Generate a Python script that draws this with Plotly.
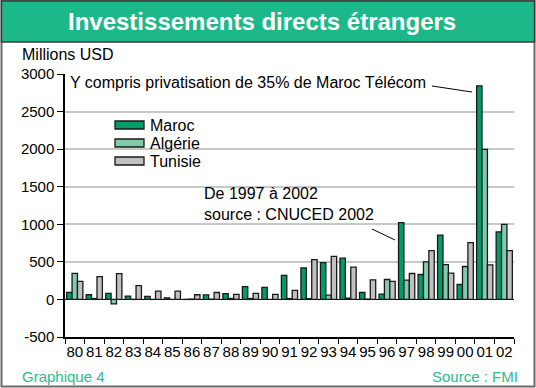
import plotly.graph_objects as go

years = ["80", "81", "82", "83", "84", "85", "86", "87", "88", "89", "90", "91",
         "92", "93", "94", "95", "96", "97", "98", "99", "00", "01", "02"]
maroc = [94, 62, 80, 45, 40, 20, 2, 60, 78, 170, 160, 320, 420, 491, 549, 92, 71,
         1021, 332, 857, 199, 2842, 900]
algerie = [348, 12, -58, 2, 1, 0, 5, 4, 13, 12, 0, 12, 10, 58, 18, 5, 265,
           256, 500, 464, 438, 1996, 1000]
tunisie = [241, 304, 344, 183, 111, 111, 62, 92, 68, 80, 67, 120, 531, 572, 429,
           259, 239, 345, 650, 350, 756, 460, 649]
y_tickvals = [-500, 0, 500, 1000, 1500, 2000, 2500, 3000]
y_ticktext = ["-500", "0", "500", "1000", "1500", "2000", "2500", "3000"]
series = [("Maroc", maroc, "#009b68"), ("Algérie", algerie, "#80ccaa"), ("Tunisie", tunisie, "#c0c0c0")]

W, H = 536, 388
L, R, T, B = 65, 22, 74, 51
PW, PH = W - L - R, H - T - B
FONT = "Liberation Sans, Arial, sans-serif"


def px(x):
    return (x - L) / PW


def py(y):
    return (H - B - y) / PH


fig = go.Figure()
for name, vals, col in series:
    fig.add_trace(go.Bar(x=years, y=vals, name=name, marker_color=col,
                         marker_line_color="#1a1a1a", marker_line_width=1.3,
                         showlegend=False))

shapes = []
annotations = []
# outer frame and title band
shapes.append(dict(type="rect", xref="paper", yref="paper", x0=px(1.5), x1=px(534.5),
                   y0=py(386.5), y1=py(1), line=dict(color="#6a6a6a", width=2),
                   fillcolor="rgba(0,0,0,0)", layer="above"))
shapes.append(dict(type="rect", xref="paper", yref="paper", x0=px(1.5), x1=px(534.5),
                   y0=py(42), y1=py(1), line=dict(color="#3c3c3c", width=1.5),
                   fillcolor="#1db88a", layer="above"))
annotations.append(dict(text="<b>Investissements directs étrangers</b>", xref="paper", yref="paper",
                        x=px(262), y=py(21.5), xanchor="center", yanchor="middle", showarrow=False,
                        font=dict(family=FONT, size=24, color="white")))
annotations.append(dict(text="Millions USD", xref="paper", yref="paper", x=px(20), y=py(55),
                        xanchor="left", yanchor="middle", showarrow=False,
                        font=dict(family=FONT, size=16, color="black")))
annotations.append(dict(text="Graphique 4", xref="paper", yref="paper", x=px(20), y=py(376),
                        xanchor="left", yanchor="middle", showarrow=False,
                        font=dict(family=FONT, size=15, color="#2cbb8c")))
annotations.append(dict(text="Source : FMI", xref="paper", yref="paper", x=px(520), y=py(376),
                        xanchor="right", yanchor="middle", showarrow=False,
                        font=dict(family=FONT, size=15, color="#2cbb8c")))
# notes
annotations.append(dict(text="Y compris privatisation de 35% de Maroc Télécom", xref="paper", yref="paper",
                        x=px(68), y=py(83), xanchor="left", yanchor="middle", showarrow=False,
                        font=dict(family=FONT, size=16, color="black")))
shapes.append(dict(type="line", xref="paper", yref="paper", x0=px(432), y0=py(86), x1=px(472), y1=py(92),
                   line=dict(color="black", width=1)))
shapes.append(dict(type="rect", xref="paper", yref="paper", x0=px(198), x1=px(378), y0=py(226), y1=py(183),
                   line=dict(width=0), fillcolor="white", layer="between"))
annotations.append(dict(text="De 1997 à 2002<br>source : CNUCED 2002", xref="paper", yref="paper",
                        x=px(202), y=py(204), xanchor="left", yanchor="middle", align="left",
                        showarrow=False, font=dict(family=FONT, size=16, color="black")))
shapes.append(dict(type="line", xref="paper", yref="paper", x0=px(372), y0=py(229), x1=px(395), y1=py(240),
                   line=dict(color="black", width=1)))
# legend
shapes.append(dict(type="rect", xref="paper", yref="paper", x0=px(110), x1=px(210), y0=py(171), y1=py(116),
                   line=dict(width=0), fillcolor="white", layer="between"))
for i, (name, vals, col) in enumerate(series):
    cy = 125 + 18 * i
    shapes.append(dict(type="rect", xref="paper", yref="paper", x0=px(115), x1=px(144),
                       y0=py(cy + 4), y1=py(cy - 4), line=dict(color="#1a1a1a", width=1.3),
                       fillcolor=col, layer="above"))
    annotations.append(dict(text=name, xref="paper", yref="paper", x=px(148), y=py(cy),
                            xanchor="left", yanchor="middle", showarrow=False,
                            font=dict(family=FONT, size=16, color="black")))

fig.update_layout(
    width=W, height=H, margin=dict(l=L, r=R, t=T, b=B, pad=0, autoexpand=False),
    paper_bgcolor="white", plot_bgcolor="white",
    barmode="group", bargap=0.17, bargroupgap=0,
    font=dict(family=FONT, size=15, color="black"),
    shapes=shapes, annotations=annotations,
    xaxis=dict(type="category", range=[-0.5, 22.5], showline=True, linecolor="black", linewidth=1.5,
               ticks="outside", tickson="boundaries", ticklen=5, tickcolor="black", tickwidth=1.2,
               tickangle=0, automargin=False,
               showgrid=False, tickfont=dict(family=FONT, size=15, color="black"), fixedrange=True),
    yaxis=dict(range=[-500, 3000], tickvals=y_tickvals, ticktext=y_ticktext,
               showline=True, linecolor="black", linewidth=1.5, ticks="outside", ticklen=6,
               automargin=False,
               tickcolor="black", tickwidth=1.2, showgrid=True, gridcolor="#c8c8c8", gridwidth=1.5,
               zeroline=True, zerolinecolor="black", zerolinewidth=1.3,
               tickfont=dict(family=FONT, size=15, color="black"), fixedrange=True),
)
fig.write_html("out.html", config={"displayModeBar": False},
               post_script="document.body.style.margin='0';document.body.style.overflow='hidden';")
